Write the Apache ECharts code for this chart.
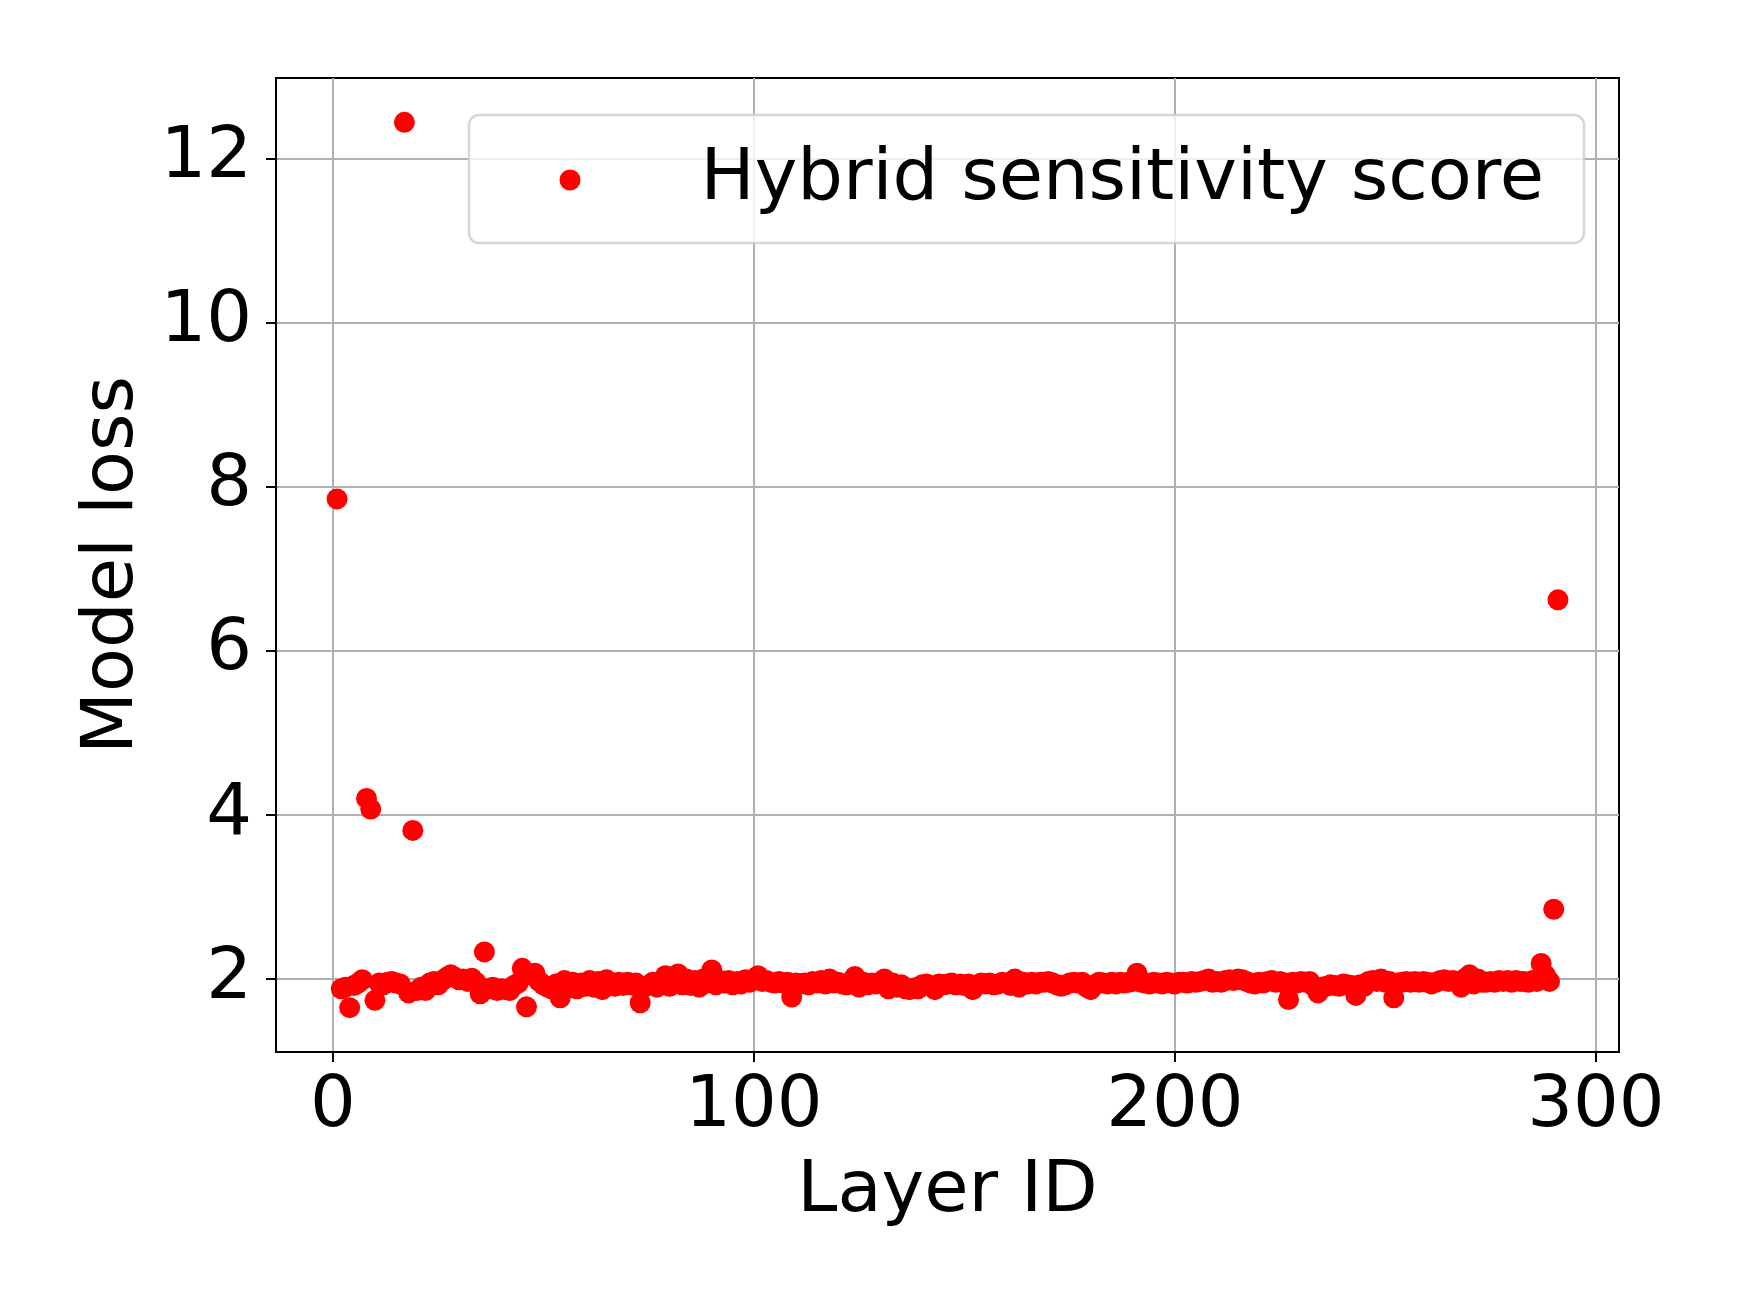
<!DOCTYPE html>
<html><head><meta charset="utf-8">
<script src="https://cdn.jsdelivr.net/npm/echarts@6/dist/echarts.min.js"></script>
<style>html,body{margin:0;padding:0;background:#fff}#c{width:1744px;height:1308px}</style>
</head><body><div id="c"></div>
<script>
const firstLayerId = 1;
const modelLoss = [
  7.85, 1.88, 1.90, 1.65, 1.92, 1.95, 1.99, 4.20, 4.07, 1.74,
  1.95, 1.93, 1.96, 1.97, 1.95, 1.94, 12.44, 1.83, 3.81, 1.86,
  1.90, 1.86, 1.95, 1.97, 1.93, 1.98, 2.02, 2.05, 2.02, 1.99,
  2.00, 1.97, 2.01, 1.96, 1.82, 2.33, 1.88, 1.90, 1.86, 1.88,
  1.87, 1.86, 1.92, 1.95, 2.13, 1.66, 2.05, 2.07, 1.97, 1.93,
  1.90, 1.88, 1.94, 1.77, 1.98, 1.89, 1.96, 1.88, 1.95, 1.91,
  1.98, 1.90, 1.97, 1.87, 1.99, 1.93, 1.91, 1.96, 1.92, 1.96,
  1.93, 1.95, 1.71, 1.90, 1.92, 1.96, 1.90, 1.97, 2.04, 1.91,
  2.00, 2.06, 1.93, 2.00, 1.92, 1.98, 1.90, 2.00, 1.95, 2.11,
  1.93, 1.98, 1.95, 1.98, 1.93, 1.97, 1.94, 1.99, 1.96, 2.00,
  2.04, 1.97, 1.98, 1.96, 1.95, 1.97, 1.95, 1.96, 1.78, 1.95,
  1.94, 1.95, 1.93, 1.97, 1.95, 1.98, 1.94, 2.00, 1.95, 1.96,
  1.94, 1.93, 1.97, 2.03, 1.90, 1.96, 1.93, 1.95, 1.94, 1.96,
  2.00, 1.88, 1.95, 1.90, 1.93, 1.88, 1.87, 1.89, 1.88, 1.93,
  1.94, 1.92, 1.87, 1.94, 1.93, 1.94, 1.95, 1.93, 1.94, 1.92,
  1.94, 1.87, 1.93, 1.95, 1.94, 1.95, 1.93, 1.94, 1.96, 1.95,
  1.92, 2.00, 1.90, 1.96, 1.94, 1.96, 1.94, 1.96, 1.96, 1.97,
  1.95, 1.93, 1.91, 1.93, 1.95, 1.96, 1.95, 1.96, 1.90, 1.87,
  1.93, 1.96, 1.95, 1.94, 1.96, 1.94, 1.96, 1.95, 1.96, 1.97,
  2.07, 1.96, 1.95, 1.94, 1.96, 1.95, 1.94, 1.96, 1.95, 1.94,
  1.96, 1.96, 1.95, 1.97, 1.96, 1.97, 1.98, 2.00, 1.96, 1.97,
  1.96, 1.98, 1.99, 1.98, 2.00, 1.99, 1.97, 1.95, 1.94, 1.96,
  1.95, 1.97, 1.98, 1.96, 1.97, 1.95, 1.75, 1.96, 1.95, 1.97,
  1.96, 1.97, 1.91, 1.83, 1.90, 1.91, 1.93, 1.92, 1.91, 1.94,
  1.93, 1.92, 1.80, 1.93, 1.91, 1.97, 1.98, 1.97, 2.00, 1.96,
  1.97, 1.77, 1.95, 1.96, 1.97, 1.96, 1.97, 1.96, 1.97, 1.96,
  1.94, 1.96, 1.98, 1.99, 1.97, 1.98, 1.97, 1.90, 2.01, 2.05,
  1.94, 2.00, 1.96, 1.96, 1.97, 1.96, 1.98, 1.97, 1.98, 1.96,
  1.98, 1.97, 1.97, 1.96, 1.98, 1.97, 2.19, 2.05, 1.97, 2.85,
  6.62
];
const xTicks = [0, 100, 200, 300];
const yTicks = [2, 4, 6, 8, 10, 12];
const seriesName = 'Hybrid sensitivity score';
const xAxisName = 'Layer ID';
const yAxisName = 'Model loss';

const points = modelLoss.map((v, i) => [firstLayerId + i, v]);
const FONT = 'DejaVu Sans';

const chart = echarts.init(document.getElementById('c'), null, {renderer: 'canvas'});
chart.setOption({
  animation: false,
  backgroundColor: '#ffffff',
  textStyle: {fontFamily: FONT},
  grid: {left: 276, right: 125, top: 78, bottom: 256, show: true,
         borderColor: '#000000', borderWidth: 2, backgroundColor: 'transparent'},
  xAxis: {
    type: 'value', min: -13.5, max: 305.5,
    name: xAxisName, nameLocation: 'middle', nameGap: 104,
    nameTextStyle: {fontSize: 72, color: '#000', fontFamily: FONT},
    axisLine: {show: true, onZero: false, lineStyle: {color: '#000', width: 2}},
    axisTick: {show: true, customValues: xTicks, length: 10, lineStyle: {color: '#000', width: 2}},
    axisLabel: {customValues: xTicks, fontSize: 72, color: '#000', margin: 19, fontFamily: FONT},
    splitLine: {show: true, customValues: xTicks, lineStyle: {color: '#b0b0b0', width: 2}}
  },
  yAxis: {
    type: 'value', min: 1.11, max: 12.98,
    name: yAxisName, nameLocation: 'middle', nameGap: 124, nameRotate: 90,
    nameTextStyle: {fontSize: 72, color: '#000', fontFamily: FONT},
    axisLine: {show: true, onZero: false, lineStyle: {color: '#000', width: 2}},
    axisTick: {show: true, customValues: yTicks, length: 10, lineStyle: {color: '#000', width: 2}},
    axisLabel: {customValues: yTicks, fontSize: 72, color: '#000', margin: 24, fontFamily: FONT,
                padding: [5, 0, 0, 0]},
    splitLine: {show: true, customValues: yTicks, lineStyle: {color: '#b0b0b0', width: 2}}
  },
  graphic: [{
    type: 'rect', z: 5,
    shape: {x: 469, y: 115, width: 1115, height: 128, r: 10},
    style: {fill: 'rgba(255,255,255,0.8)', stroke: 'rgba(204,204,204,0.8)', lineWidth: 2.5}
  }],
  legend: {
    z: 10, left: 559.5, top: 144, padding: 0,
    itemWidth: 21, itemHeight: 21,
    data: [{name: seriesName, icon: 'circle'}],
    textStyle: {fontSize: 72, lineHeight: 72, color: '#000', fontFamily: FONT, padding: [0, 0, 0, 115]}
  },
  series: [{
    type: 'scatter', name: seriesName, data: points,
    symbol: 'circle', symbolSize: 21,
    itemStyle: {color: '#ff0000', opacity: 1},
    emphasis: {disabled: true}
  }]
});
</script>
</body></html>
